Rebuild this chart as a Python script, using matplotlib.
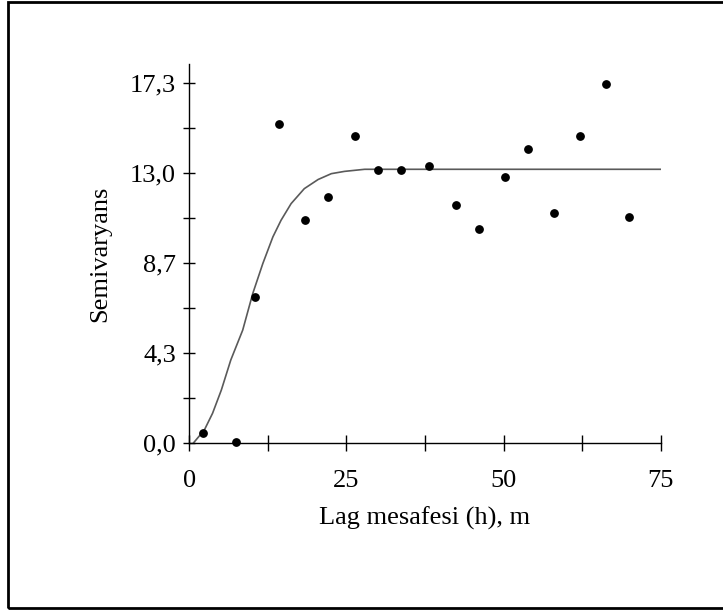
import matplotlib.pyplot as plt
from matplotlib.patches import Rectangle

# experimental semivariogram (lag distance, semivariance)
lag_h = [2.2, 7.5, 10.5, 14.3, 18.4, 22.1, 26.3, 30.0, 33.7, 38.2,
         42.4, 46.1, 50.2, 53.9, 58.1, 62.2, 66.3, 70.0]
semivar = [0.47, 0.03, 6.99, 15.34, 10.70, 11.83, 14.76, 13.09, 13.09, 13.30,
           11.40, 10.25, 12.75, 14.10, 11.05, 14.76, 17.25, 10.83]

# fitted model curve
model_h = [0.7, 2.4, 3.7, 5.1, 6.6, 8.5, 10.1, 11.7, 13.3, 14.6,
           16.2, 18.3, 20.5, 22.6, 24.7, 27.9, 75.0]
model_g = [0.0, 0.61, 1.41, 2.53, 3.97, 5.41, 7.17, 8.61, 9.89, 10.69,
           11.49, 12.21, 12.65, 12.93, 13.04, 13.14, 13.14]

y_ticks = [0.0, 4.325, 8.65, 12.975, 17.3]
y_labels = ["0,0", "4,3", "8,7", "13,0", "17,3"]
y_minor = [2.1625, 6.4875, 10.8125, 15.1375]
x_ticks = [0, 25, 50, 75]
x_labels = ["0", "25", "50", "75"]
x_minor = [12.5, 37.5, 62.5]

plt.rcParams["font.family"] = ["Liberation Serif", "DejaVu Serif"]

fig = plt.figure(figsize=(7.23, 6.15), dpi=100)
ax = fig.add_axes([0.2618, 0.2802, 0.652, 0.6157])

ax.plot(model_h, model_g, color="#5a5a5a", lw=1.2)
ax.scatter(lag_h, semivar, s=28, color="black", zorder=3, clip_on=False)

ax.set_xlim(0, 75)
ax.set_ylim(0, 18.2)

for side in ["top", "right"]:
    ax.spines[side].set_visible(False)
ax.spines["left"].set_linewidth(1.0)
ax.spines["bottom"].set_linewidth(1.0)

ax.set_xticks(x_ticks)
ax.set_xticklabels(x_labels)
ax.set_xticks(x_minor, minor=True)
ax.set_yticks(y_ticks)
ax.set_yticklabels(y_labels)
ax.set_yticks(y_minor, minor=True)

ax.tick_params(axis="x", which="both", direction="inout", length=11, width=1,
               pad=14, labelsize=19)
ax.tick_params(axis="y", which="both", direction="inout", length=9, width=1,
               pad=5, labelsize=19)

ax.set_xlabel("Lag mesafesi (h), m", fontsize=19)
ax.set_ylabel("Semivaryans", fontsize=19)
ax.xaxis.set_label_coords(0.5, -0.17)
ax.yaxis.set_label_coords(-0.165, 0.5)

# outer frame around the whole picture
fig.add_artist(Rectangle((0.011, 0.0114), 1.05, 0.985, transform=fig.transFigure,
                         fill=False, lw=2, edgecolor="black"))

fig.savefig("out.png", dpi=100)
